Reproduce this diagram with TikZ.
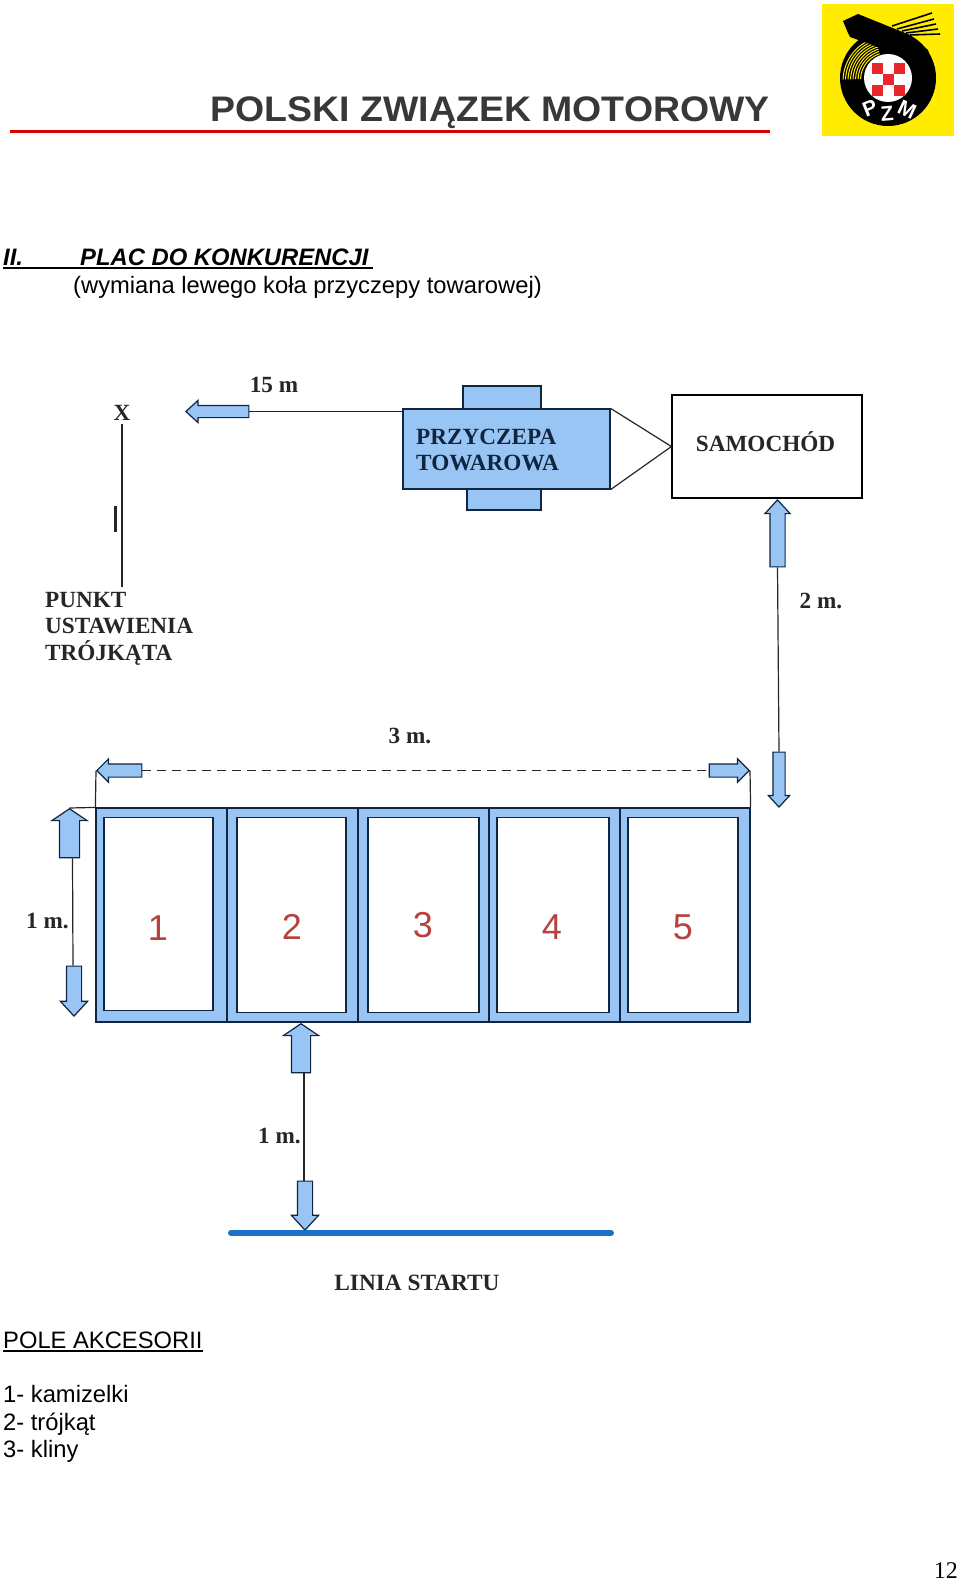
\documentclass[tikz,border=0pt]{standalone}
\usepackage{fontspec}
\setmainfont{Liberation Sans}
\newfontfamily\labelfont{Liberation Serif}
\newfontfamily\headfont[FakeStretch=1.055]{Liberation Sans}
\usetikzlibrary{calc,shapes.arrows}
\definecolor{planblue}{HTML}{99C5F4}
\definecolor{planline}{HTML}{10253F}
\definecolor{startblue}{HTML}{1A72C8}
\definecolor{digitred}{HTML}{B8403F}
\definecolor{logoyellow}{HTML}{FFEC00}
\definecolor{logored}{HTML}{E8262D}
\tikzset{
  dimtext/.style={inner sep=0,font=\labelfont\bfseries\fontsize{23.2}{26.5}\selectfont,text=black!85},
  bodytext/.style={inner sep=0,anchor=base west,font=\fontsize{23.75}{27.4}\selectfont},
  thinline/.style={line width=1.2,black!85},
  blockarrow/.style n args={4}{single arrow,draw=planline,fill=planblue,line width=1.2,anchor=tip,
    inner sep=#2,minimum height=#1,single arrow head extend=#3,single arrow tip angle=#4},
  cellbox/.style={draw=planline,fill=planblue,line width=1.2,inner sep=0,minimum height=214},
  slotbox/.style={draw=planline,fill=white,line width=1.4,inner sep=0,anchor=north},
  digit/.style={inner sep=0,text=digitred,font=\fontsize{36}{36}\selectfont}
}
\begin{document}
\begin{tikzpicture}[x=1pt,y=-1pt]
\useasboundingbox (0,0) rectangle (960,1581);
% header
\node[inner sep=0,anchor=base east,text=black!78,font=\headfont\bfseries\fontsize{35.5}{40}\selectfont] (head) at (770,122) {POLSKI ZWIĄZEK MOTOROWY};
\coordinate (redL) at (10,132);
\coordinate (redR) at (770,132);
\draw[line width=3,red!85!black] (redL) -- (redR);
% logo
\fill[logoyellow] (822,4) rectangle (954,136);
\fill[black] (888,78) circle (48);
\foreach \r in {27.5,30,32.5,35,37.5,40,42.5,45}
  \draw[logoyellow,line width=1] (888,78) ++(178:\r) arc (-178:-100:\r);
\fill[black] (843,21) -- (858,14) -- (910,35) -- (928,50) -- (936,78) -- (884,72) -- (878,47) -- (850,37) -- (848,33) -- cycle;
\foreach \a/\b/\c/\d in {892/26/932/13,897/29/934/19,902/31/936/24,906/33/938/29,910/35/940/34}
  \draw[black,line width=1.6] (\a,\b) -- (\c,\d);
\fill[white] (888,78) circle (24);
\foreach \a/\b in {872/63,894/63,883/74,872/85,894/85}
  \fill[logored] (\a,\b) rectangle ++(11,11);
\foreach \t/\a/\b/\w in {P/870/108/22,Z/887/114/5,M/907/110/-25}
  \node[inner sep=0,text=white,rotate=\w,font=\bfseries\fontsize{21}{21}\selectfont] at (\a,\b) {\t};
% heading
\node[bodytext,font=\bfseries\itshape\fontsize{23.8}{27}\selectfont] (roman) at (3,265) {II.};
\node[bodytext,font=\bfseries\itshape\fontsize{23.8}{27}\selectfont] (plac) at (80,265) {PLAC DO KONKURENCJI};
\draw[line width=1.4] ([yshift=-3]roman.base west) -- ([yshift=-3,xshift=4]plac.base east);
\node[bodytext] (sub) at (73,293) {(wymiana lewego koła przyczepy towarowej)};
% trailer and car
\node[draw=planline,fill=planblue,line width=1.2,inner sep=0,minimum width=78,minimum height=24] (tabtop) at (502,398) {};
\node[draw=planline,fill=planblue,line width=1.2,inner sep=0,minimum width=74,minimum height=22] (tabbot) at (504,499) {};
\node[draw=planline,fill=planblue,line width=1.2,inner sep=0,minimum width=207,minimum height=80] (trailer) at (506.5,449) {};
\node[dimtext,anchor=west,align=left,text=planline] (trailertxt) at (416,450) {PRZYCZEPA\\TOWAROWA};
\node[draw=black,fill=white,line width=1.2,inner sep=0,minimum width=190,minimum height=103] (car) at (767,446.5) {};
\node[dimtext] (cartxt) at (765.5,442) {SAMOCHÓD};
\draw[thinline] (trailer.north east) -- (car.west) -- (trailer.south east);
% 15 m
\node[dimtext] (d15) at (274,385) {15 m};
\node[blockarrow={63}{5.5}{5}{85},shape border rotate=180] (a15) at (185,411.5) {};
\draw[thinline] (a15.tail) -- (a15.tail -| trailer.west);
% punkt
\node[dimtext] (markx) at (122,413) {X};
\coordinate (xend) at (122,587);
\draw[thinline] (markx.south) ++(0,3) -- (xend);
\coordinate (barA) at (115.5,506);
\coordinate (barB) at (115.5,532);
\draw[line width=2.2,black!85] (barA) -- (barB);
\node[dimtext,anchor=north west,align=left] (punkt) at (45,592) {PUNKT\\USTAWIENIA\\TRÓJKĄTA};
% 2 m
\node[dimtext] (d2) at (821,601) {2 m.};
\node[blockarrow={67}{7}{5}{85},shape border rotate=90] (a2up) at (777.5,499) {};
\node[blockarrow={55}{5.5}{4.5}{85},shape border rotate=270] (a2dn) at (779,808) {};
\draw[thinline] (a2up.tail) -- (a2dn.tail);
% 3 m
\node[dimtext] (d3) at (410,736) {3 m.};
\node[blockarrow={45}{6}{5}{90},shape border rotate=180] (a3l) at (96,770.5) {};
\node[blockarrow={40}{6}{5}{90},shape border rotate=0] (a3r) at (750,770.5) {};
\draw[thinline,dashed,dash pattern=on 9pt off 6pt] (a3l.tail) -- (a3r.tail);
% cells
\foreach \i/\cx/\w/\sx/\sw/\sh in {1/161.5/131/158.5/109/193,2/292.5/131/291.5/109/195,3/423.5/131/423.5/111/195,4/554.5/131/553/112/195,5/685/130/683/110/195}{
  \node[cellbox,minimum width=\w] (cell\i) at (\cx,915) {};
  \node[slotbox,minimum width=\sw,minimum height=\sh] (slot\i) at (\sx,817) {};
}
\foreach \i/\dx/\dy in {1/158/928,2/292/927,3/423/925,4/552/927,5/683/927}
  \node[digit] (num\i) at (\dx,\dy) {\i};
\draw[thinline] (a3l.tip) -- (cell1.north west);
\draw[thinline] (a3r.tip) -- (cell5.north east);
% 1 m left
\node[dimtext] (d1a) at (47.5,921) {1 m.};
\node[blockarrow={49}{9.5}{7.5}{112},shape border rotate=90] (a1up) at (69.5,808) {};
\node[blockarrow={50}{7}{6}{85},shape border rotate=270] (a1dn) at (74,1017) {};
\draw[thinline] (a1up.tip) -- (cell1.north west);
\draw[thinline] ($(a1up.tail)+(3,0)$) -- ($(a1dn.tail)+(-1,0)$);
% 1 m bottom
\node[dimtext] (d1b) at (279.5,1136) {1 m.};
\node[blockarrow={49}{9}{8}{112},shape border rotate=90] (a1bu) at (301,1023) {};
\node[blockarrow={49}{7}{6}{85},shape border rotate=270] (a1bd) at (305,1231) {};
\draw[thinline] ($(a1bu.tail)+(3,0)$) -- ($(a1bd.tail)+(-1,0)$);
% start line
\coordinate (startL) at (231,1233);
\coordinate (startR) at (611,1233);
\draw[startblue,line width=6,line cap=round] (startL) -- (startR);
\node[dimtext,font=\labelfont\fontsize{23.3}{26}\selectfont\bfseries] (start) at (417,1283) {LINIA STARTU};
% accessories
\node[bodytext] (pole) at (3,1348) {POLE AKCESORII};
\draw[line width=1.2] ([yshift=-3]pole.base west) -- ([yshift=-3]pole.base east);
\node[bodytext] (acc1) at (3,1402) {1- kamizelki};
\node[bodytext] (acc2) at (3,1430) {2- trójkąt};
\node[bodytext] (acc3) at (3,1457) {3- kliny};
\node[inner sep=0,anchor=base east,font=\labelfont\fontsize{24}{24}\selectfont] (page) at (958,1578) {12};
\end{tikzpicture}
\end{document}
